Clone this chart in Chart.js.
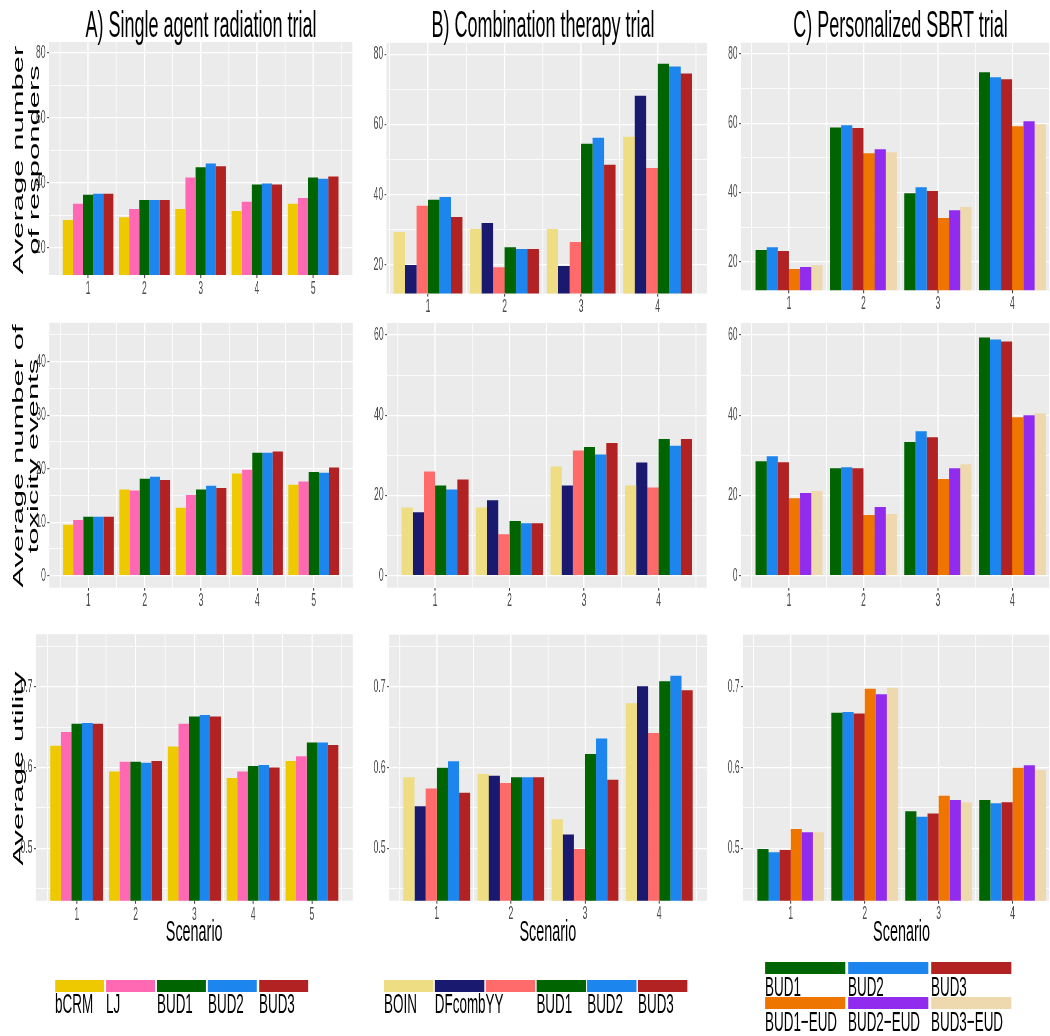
<!DOCTYPE html>
<html><head><meta charset="utf-8">
<script src="https://cdn.jsdelivr.net/npm/chart.js@4.4.1/dist/chart.umd.min.js"></script>
<style>
html,body{margin:0;padding:0;overflow:hidden;background:#fff;width:1050px;height:1036px;}
#fig{position:absolute;left:0;top:0;height:1036px;transform-origin:0 0;}
#fig canvas{position:absolute;}
.t{position:absolute;white-space:pre;font-family:'Liberation Sans',Arial,sans-serif;color:#000;}
</style></head>
<body><div id="fig"></div>
<script>
// ---------------- DATA ----------------
const scenarios5 = [1, 2, 3, 4, 5];
const scenarios4 = [1, 2, 3, 4];
const methodsA = ['bCRM', 'LJ', 'BUD1', 'BUD2', 'BUD3'];
const methodsB = ['BOIN', 'DFcomb', 'YY', 'BUD1', 'BUD2', 'BUD3'];
const methodsC = ['BUD1', 'BUD2', 'BUD3', 'BUD1\u2212EUD', 'BUD2\u2212EUD', 'BUD3\u2212EUD'];

// rows = methods (in order above), columns = scenarios
const respondersA = [
  [28.6, 29.5, 32.0, 31.4, 33.6],
  [33.6, 32.0, 41.7, 34.2, 35.4],
  [36.4, 34.8, 44.8, 39.5, 41.7],
  [36.7, 34.8, 46.0, 39.8, 41.3],
  [36.7, 34.8, 45.1, 39.5, 42.0]
];
const respondersB = [
  [29.3, 30.2, 30.2, 56.5],
  [19.9, 31.9, 19.6, 68.2],
  [36.8, 19.3, 26.5, 47.6],
  [38.5, 25.0, 54.5, 77.3],
  [39.3, 24.5, 56.2, 76.5],
  [33.6, 24.5, 48.5, 74.5]
];
const respondersC = [
  [23.4, 58.8, 39.8, 74.7],
  [24.2, 59.4, 41.5, 73.3],
  [23.1, 58.6, 40.4, 72.7],
  [17.9, 51.3, 32.6, 59.1],
  [18.5, 52.5, 34.9, 60.6],
  [19.0, 51.6, 35.8, 59.7]
];
const toxicityA = [
  [9.5, 16.1, 12.7, 19.1, 17.0],
  [10.4, 15.9, 15.1, 19.8, 17.6],
  [11.0, 18.1, 16.1, 23.0, 19.4],
  [11.0, 18.5, 16.8, 23.0, 19.25],
  [11.0, 17.9, 16.4, 23.2, 20.2]
];
const toxicityB = [
  [17.0, 17.0, 27.2, 22.5],
  [15.8, 18.8, 22.5, 28.2],
  [26.0, 10.3, 31.2, 22.0],
  [22.5, 13.6, 32.1, 34.1],
  [21.5, 13.1, 30.2, 32.4],
  [24.0, 13.1, 33.1, 34.1]
];
const toxicityC = [
  [28.5, 26.8, 33.3, 59.4],
  [29.8, 27.05, 36.0, 58.9],
  [28.3, 26.8, 34.5, 58.4],
  [19.3, 15.1, 24.1, 39.5],
  [20.6, 17.1, 26.8, 40.0],
  [21.1, 15.35, 27.8, 40.5]
];
const utilityA = [
  [0.627, 0.595, 0.626, 0.587, 0.608],
  [0.644, 0.607, 0.654, 0.595, 0.614],
  [0.654, 0.607, 0.663, 0.602, 0.631],
  [0.655, 0.606, 0.665, 0.603, 0.631],
  [0.654, 0.608, 0.663, 0.600, 0.628]
];
const utilityB = [
  [0.588, 0.592, 0.536, 0.680],
  [0.552, 0.590, 0.517, 0.701],
  [0.574, 0.581, 0.499, 0.643],
  [0.600, 0.588, 0.617, 0.707],
  [0.608, 0.588, 0.636, 0.714],
  [0.569, 0.588, 0.585, 0.696]
];
const utilityC = [
  [0.499, 0.668, 0.546, 0.560],
  [0.495, 0.669, 0.539, 0.556],
  [0.498, 0.667, 0.543, 0.557],
  [0.524, 0.698, 0.565, 0.600],
  [0.520, 0.691, 0.560, 0.603],
  [0.520, 0.699, 0.557, 0.597]
];

const panelTitles = ['A) Single agent radiation trial', 'B) Combination therapy trial', 'C) Personalized SBRT trial'];
const rowTitles = [['Average number', 'of responders'], ['Average number of', 'toxicity events'], ['Average utility']];
const xTitle = 'Scenario';

// ---------------- STYLE ----------------
const methodColors = {
  'bCRM': '#EEC900', 'LJ': '#FF69B4', 'BUD1': '#006400', 'BUD2': '#1C86EE', 'BUD3': '#B22222',
  'BOIN': '#EEDD82', 'DFcomb': '#191970', 'YY': '#FF6A6A',
  'BUD1\u2212EUD': '#EE7600', 'BUD2\u2212EUD': '#912CEE', 'BUD3\u2212EUD': '#EED8AE'
};
const S = 0.48; // horizontal compression of the whole figure
const FONT = "'Liberation Sans', Arial, sans-serif";
const fig = document.getElementById('fig');
fig.style.width = (1050 / S) + 'px';
fig.style.transform = 'scaleX(' + S + ')';

const yRow1 = {min: 11.75, max: 83.25, step: 10, major: 20, dec: 0};
const yRow2A = {min: -2.25, max: 47.25, step: 5, major: 10, dec: 0};
const yRow2BC = {min: -3, max: 63, step: 10, major: 20, dec: 0};
const yRow3 = {min: 0.435, max: 0.765, step: 0.05, major: 0.1, dec: 1};

// page-pixel geometry of each panel
const geom = [
  {L: 49, R: 352.3, T: 42, B: 275, xr: [0.305, 5.695], y: yRow1},
  {L: 386.5, R: 706.8, T: 42.9, B: 293.6, xr: [0.458, 4.645], y: yRow1},
  {L: 741, R: 1060, T: 42.75, B: 290.3, xr: [0.355, 4.645], y: yRow1},
  {L: 49.2, R: 352.4, T: 322.9, B: 587.7, xr: [0.305, 5.695], y: yRow2A},
  {L: 387, R: 706.3, T: 323, B: 587.7, xr: [0.355, 4.645], y: yRow2BC},
  {L: 741, R: 1060.3, T: 323, B: 587.7, xr: [0.355, 4.645], y: yRow2BC},
  {L: 35.9, R: 352.5, T: 634.2, B: 900.8, xr: [0.305, 5.695], y: yRow3},
  {L: 388.9, R: 706.8, T: 634.6, B: 900.7, xr: [0.355, 4.645], y: yRow3},
  {L: 743, R: 1060, T: 634.6, B: 900.7, xr: [0.355, 4.645], y: yRow3}
];
const panels = [
  {cats: scenarios5, methods: methodsA, values: respondersA},
  {cats: scenarios4, methods: methodsB, values: respondersB},
  {cats: scenarios4, methods: methodsC, values: respondersC},
  {cats: scenarios5, methods: methodsA, values: toxicityA},
  {cats: scenarios4, methods: methodsB, values: toxicityB},
  {cats: scenarios4, methods: methodsC, values: toxicityC},
  {cats: scenarios5, methods: methodsA, values: utilityA},
  {cats: scenarios4, methods: methodsB, values: utilityB},
  {cats: scenarios4, methods: methodsC, values: utilityC}
];

const bgPlugin = {
  id: 'panelBg',
  beforeDraw(chart) {
    const a = chart.chartArea, ctx = chart.ctx;
    ctx.save();
    ctx.fillStyle = '#EBEBEB';
    ctx.fillRect(a.left, a.top, a.right - a.left, a.bottom - a.top);
    ctx.restore();
  }
};

function isMult(v, m) { const r = v / m; return Math.abs(r - Math.round(r)) < 1e-6; }

function makeChart(pd, g) {
  const mL = 24, mB = 30;
  const leftU = Math.floor((g.L - mL) / S);
  const yAxisW = g.L / S - leftU;
  const widthU = Math.ceil(g.R / S) - leftU;
  const topPx = Math.floor(g.T - 12);
  const padTop = g.T - topPx;
  const plotH = g.B - g.T;
  const heightPx = Math.ceil(padTop + plotH + mB);
  const xAxisH = heightPx - padTop - plotH;
  const cv = document.createElement('canvas');
  cv.width = widthU; cv.height = heightPx;
  cv.style.left = leftU + 'px'; cv.style.top = topPx + 'px';
  cv.style.width = widthU + 'px'; cv.style.height = heightPx + 'px';
  fig.appendChild(cv);
  const ys = g.y;
  new Chart(cv, {
    type: 'bar',
    data: {
      labels: pd.cats,
      datasets: pd.methods.map((m, i) => ({
        label: m, data: pd.values[i], backgroundColor: methodColors[m],
        borderWidth: 0, categoryPercentage: 1.8, barPercentage: 1
      }))
    },
    options: {
      responsive: false, animation: false, devicePixelRatio: 1,
      layout: {padding: {top: padTop, left: 0, right: 0, bottom: 0}},
      plugins: {legend: {display: false}, tooltip: {enabled: false}, title: {display: false}},
      scales: {
        x: {
          type: 'linear', min: g.xr[0], max: g.xr[1], bounds: 'ticks', offset: false,
          border: {display: false},
          grid: {
            offset: false, color: '#FFFFFF',
            lineWidth: c => (c.tick && isMult(c.tick.value, 1)) ? 2.6 : 1.6,
            drawTicks: true, tickLength: 3, tickWidth: 2,
            tickColor: c => (c.tick && isMult(c.tick.value, 1)) ? '#333333' : 'rgba(0,0,0,0)'
          },
          ticks: {
            stepSize: 0.5, includeBounds: false, autoSkip: false, maxRotation: 0, minRotation: 0,
            maxTicksLimit: 50,
            padding: 0, color: '#4D4D4D', font: {family: FONT, size: 18},
            callback: v => isMult(v, 1) ? String(Math.round(v)) : ''
          },
          afterFit: s => { s.height = xAxisH; s.paddingLeft = 0; s.paddingRight = 0; }
        },
        y: {
          type: 'linear', min: ys.min, max: ys.max, bounds: 'ticks',
          border: {display: false},
          grid: {
            color: '#FFFFFF',
            lineWidth: c => (c.tick && isMult(c.tick.value, ys.major)) ? 1.3 : 0.8,
            drawTicks: true, tickLength: 4, tickWidth: 1,
            tickColor: c => (c.tick && isMult(c.tick.value, ys.major)) ? '#333333' : 'rgba(0,0,0,0)'
          },
          ticks: {
            stepSize: ys.step, includeBounds: false, autoSkip: false, maxTicksLimit: 50,
            padding: 3, color: '#4D4D4D', font: {family: FONT, size: 18},
            callback: v => isMult(v, ys.major) ? Number(v).toFixed(ys.dec) : ''
          },
          afterFit: s => { s.width = yAxisW; s.paddingTop = 0; s.paddingBottom = 0; }
        }
      }
    },
    plugins: [bgPlugin]
  });
}

panels.forEach((pd, i) => makeChart(pd, geom[i]));

// ---------------- TEXT ----------------
function addText(txt, x, baseline, size, align) {
  const d = document.createElement('div');
  d.className = 't';
  d.textContent = txt;
  d.style.fontSize = size + 'px';
  d.style.lineHeight = size + 'px';
  d.style.top = (baseline - 0.8465 * size) + 'px';
  if (align === 'center') {
    d.style.left = (x / S - 1500) + 'px'; d.style.width = '3000px'; d.style.textAlign = 'center';
  } else {
    d.style.left = (x / S) + 'px';
  }
  fig.appendChild(d);
}
function addVText(lines, cx, cy, size, lh) {
  const d = document.createElement('div');
  d.className = 't';
  d.textContent = lines.join('\n');
  const W = 600, H = lh * lines.length;
  d.style.fontSize = size + 'px';
  d.style.lineHeight = lh + 'px';
  d.style.width = W + 'px'; d.style.height = H + 'px';
  d.style.left = (cx / S - W / 2) + 'px';
  d.style.top = (cy - H / 2) + 'px';
  d.style.textAlign = 'center';
  d.style.transform = 'rotate(-90deg)';
  fig.appendChild(d);
}
function addBox(x, y, w, h, color) {
  const d = document.createElement('div');
  d.style.cssText = 'position:absolute;left:' + (x / S) + 'px;top:' + y + 'px;width:' + (w / S) + 'px;height:' + h + 'px;background:' + color;
  fig.appendChild(d);
}

const titleCenters = [201, 543, 900.5];
panelTitles.forEach((t, i) => addText(t, titleCenters[i], 37.3, 37.5, 'center'));

const rowTitleGeom = [{cx: 26, cy: 160}, {cx: 25.5, cy: 456}, {cx: 18, cy: 768}];
rowTitles.forEach((lines, i) => addVText(lines, rowTitleGeom[i].cx, rowTitleGeom[i].cy, 31, 33));

[6, 7, 8].forEach(i => addText(xTitle, (geom[i].L + geom[i].R) / 2, 941.7, 30, 'center'));

// legends
function legend(methods, x0, pitch, w, cols, keyTops, baselines, keyH) {
  methods.forEach((m, i) => {
    const c = i % cols, r = Math.floor(i / cols);
    const x = x0 + c * pitch;
    addBox(x, keyTops[r], w, keyH, methodColors[m]);
    addText(m, x, baselines[r], 28, 'left');
  });
}
legend(methodsA, 55, 51, 49, 5, [980], [1013.3], 11.7);
legend(methodsB, 384, 50.8, 49.5, 6, [980], [1013.3], 11.7);
legend(methodsC, 765, 83, 80.5, 3, [961.7, 996.7], [996.7, 1031.7], 12.3);
</script>
</body></html>
